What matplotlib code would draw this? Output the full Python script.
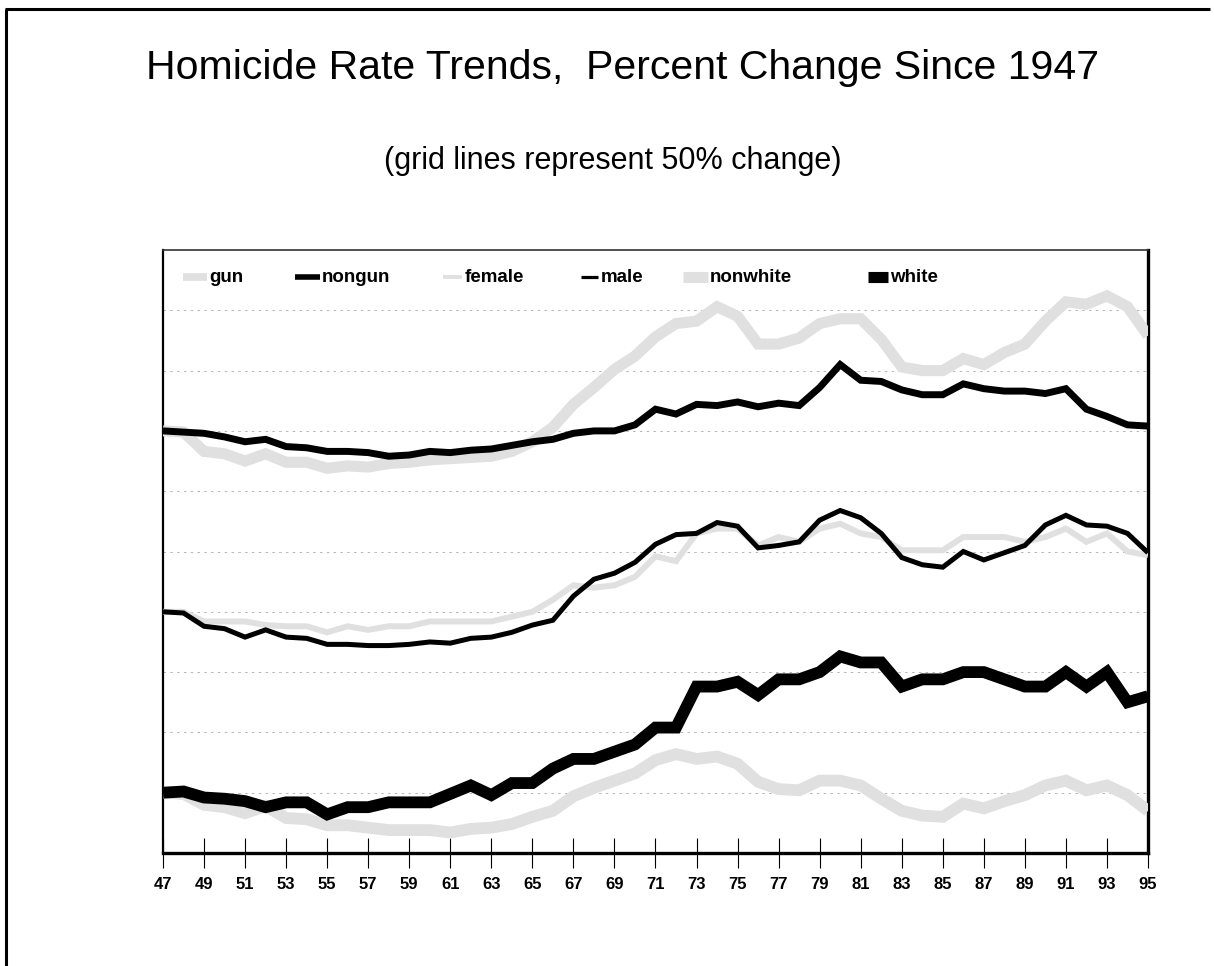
import matplotlib
matplotlib.use("Agg")
import matplotlib.pyplot as plt
from matplotlib.lines import Line2D
import numpy as np

plt.rcParams['font.family'] = ['Liberation Sans', 'DejaVu Sans']

# Years 1947-1995 and percent change in homicide rate since 1947
years = list(range(47, 96))

gun = [0, -1, -17, -19, -25, -19, -26, -26, -31, -29, -30, -27, -26, -24, -23, -22, -21, -17, -9, 3,
       22, 36, 51, 62, 78, 89, 91, 103, 95, 72, 72, 77, 89, 93, 93, 76, 53, 50, 50, 60,
       55, 65, 72, 91, 107, 105, 112, 103, 79]
nongun = [0, -1, -2, -5, -9, -7, -13, -14, -17, -17, -18, -21, -20, -17, -18, -16, -15, -12, -9, -7,
          -2, 0, 0, 5, 18, 14, 22, 21, 24, 20, 23, 21, 36, 55, 42, 41, 34, 30, 30, 39,
          35, 33, 33, 31, 35, 18, 12, 5, 4]
female = [0, 0, -8, -8, -8, -11, -12, -12, -17, -12, -15, -12, -12, -8, -8, -8, -8, -4, 0, 10,
          22, 20, 22, 29, 46, 42, 65, 69, 69, 55, 62, 58, 69, 73, 65, 62, 51, 51, 51, 62,
          62, 62, 58, 62, 69, 58, 65, 50, 47]
male = [0, -1, -12, -14, -21, -15, -21, -22, -27, -27, -28, -28, -27, -25, -26, -22, -21, -17, -11, -7,
        13, 27, 32, 41, 56, 64, 65, 74, 71, 53, 55, 58, 76, 84, 78, 65, 45, 39, 37, 50,
        43, 49, 55, 72, 80, 72, 71, 65, 49]
nonwhite = [0, -1, -10, -12, -17, -11, -21, -22, -27, -27, -29, -31, -31, -31, -33, -30, -29, -26, -20, -15,
            -3, 4, 10, 16, 27, 32, 28, 30, 24, 9, 3, 2, 10, 10, 6, -5, -15, -19, -20, -9,
            -13, -7, -2, 6, 10, 2, 6, -2, -15]
white = [0, 1, -4, -5, -7, -12, -8, -8, -18, -12, -12, -8, -8, -8, -1, 6, -2, 8, 8, 20,
         28, 28, 34, 40, 54, 54, 88, 88, 92, 81, 94, 94, 100, 113, 108, 108, 88, 94, 94, 100,
         100, 94, 88, 88, 100, 88, 100, 75, 80]

tick_years = list(range(47, 96, 2))
tick_labels = [str(y) for y in tick_years]

title = "Homicide Rate Trends,  Percent Change Since 1947"
subtitle = "(grid lines represent 50% change)"

# Each pair of series is shifted up so the three panels share one grid
GRAY = "#e0e0e0"
series = [
    # name, values, baseline, color, linewidth(pt), legend handle width(pt)
    ("gun", gun, 350, GRAY, 8.0, 5.5),
    ("nongun", nongun, 350, "black", 5.0, 4.0),
    ("female", female, 200, GRAY, 4.3, 2.8),
    ("male", male, 200, "black", 3.6, 2.3),
    ("nonwhite", nonwhite, 50, GRAY, 8.5, 8.0),
    ("white", white, 50, "black", 8.5, 8.0),
]
legend_x = [0.020, 0.134, 0.284, 0.424, 0.528, 0.716]   # axes fraction of handle start
legend_handle_len = [0.025, 0.025, 0.020, 0.018, 0.025, 0.020]

W, H = 1214, 966
fig = plt.figure(figsize=(W / 100, H / 100), dpi=100)
ax = fig.add_axes([163 / W, 1 - 853 / H, 985 / W, 603 / H])

for name, vals, base, color, lw, _ in series:
    ax.plot(years, np.array(vals) + base, color=color, lw=lw,
            solid_joinstyle="miter", solid_capstyle="butt", zorder=3)

ax.set_xlim(47, 95)
ax.set_ylim(0, 500)

# dotted horizontal grid every 50
for g in range(50, 500, 50):
    ax.axhline(g, color="#b5b5b5", lw=0.7, ls=(0, (2.5, 4.5)), zorder=1)

ax.set_yticks([])
ax.set_xticks(tick_years)
ax.set_xticklabels(tick_labels, fontsize=12, fontweight="bold")
ax.tick_params(axis="x", direction="inout", length=21, width=0.8, pad=7, color="black")

ax.spines["left"].set_linewidth(1.6)
ax.spines["bottom"].set_linewidth(2.4)
ax.spines["right"].set_linewidth(2.4)
ax.spines["top"].set_linewidth(1.2)
ax.spines["top"].set_color("#333333")

# legend row along the top of the plot
ly = 0.955
for (name, vals, base, color, lw, hw), lx, hl in zip(series, legend_x, legend_handle_len):
    ax.add_line(Line2D([lx, lx + hl], [ly, ly], transform=ax.transAxes, color=color,
                       lw=hw, solid_capstyle="butt", zorder=4))
    ax.text(lx + hl + 0.002, ly, name, transform=ax.transAxes, fontsize=13.5,
            fontweight="bold", va="center", ha="left")

fig.text(623 / W, 1 - 68 / H, title, fontsize=29.5, ha="center", va="center")
fig.text(613 / W, 1 - 161 / H, subtitle, fontsize=22, ha="center", va="center")

# outer page frame (left and top edges)
fig.add_artist(Line2D([5.5 / W, 5.5 / W], [0, 1 - 9 / H], color="black", lw=2.2,
                      transform=fig.transFigure, solid_capstyle="butt"))
fig.add_artist(Line2D([4.5 / W, 1210 / W], [1 - 9 / H, 1 - 9 / H], color="black", lw=2.2,
                      transform=fig.transFigure, solid_capstyle="butt"))

fig.savefig("out.png", dpi=100)
